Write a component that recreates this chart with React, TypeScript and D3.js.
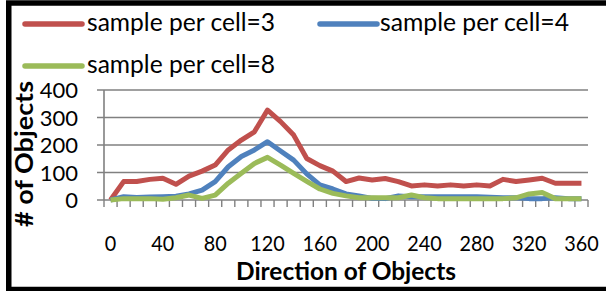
import React from "react";
import * as d3 from "d3";

const directions = [0, 10, 20, 30, 40, 50, 60, 70, 80, 90, 100, 110, 120, 130, 140, 150, 160, 170, 180, 190, 200, 210, 220, 230, 240, 250, 260, 270, 280, 290, 300, 310, 320, 330, 340, 350, 360];
const cell3 = [0, 67, 67, 75, 79, 57, 87, 105, 127, 182, 218, 248, 327, 285, 236, 151, 125, 105, 67, 80, 73, 78, 67, 51, 55, 51, 55, 51, 55, 51, 75, 67, 73, 79, 61, 61, 61];
const cell4 = [0, 12, 9, 11, 12, 14, 22, 36, 67, 121, 158, 182, 212, 178, 145, 95, 55, 40, 22, 15, 6, 5, 15, 12, 12, 12, 12, 12, 12, 10, 8, 8, 5, 5, 8, 5, 5];
const cell8 = [0, 5, 5, 5, 3, 8, 18, 6, 18, 61, 97, 133, 155, 127, 97, 68, 40, 24, 15, 8, 8, 8, 8, 18, 8, 5, 5, 5, 5, 5, 5, 8, 22, 27, 5, 5, 5];
const seriesNames = ["sample per cell=3", "sample per cell=4", "sample per cell=8"];
const seriesColors = ["#C0504D", "#4F81BD", "#9BBB59"];
const yTicks = [0, 100, 200, 300, 400];
const xLabelEvery = 4;

const W = 606;
const H = 291;
const FONT = "Lato, 'Open Sans', sans-serif";

export default function App() {
  const x = d3.scaleBand<string>().domain(directions.map(String)).range([104, 588]).paddingInner(0).paddingOuter(0);
  const y = d3.scaleLinear().domain([0, 400]).range([200, 90]);
  const bw = x.bandwidth();
  const cx = (i: number) => (x(String(directions[i])) as number) + bw / 2;
  const line = d3
    .line<number>()
    .x((_, i) => cx(i))
    .y((v) => y(v));
  const allSeries = [cell3, cell4, cell8];
  const tickEdges = directions.map((d) => x(String(d)) as number).concat([588]);

  const legendItems = [
    { lx: 25, ly: 24, tx: 87, ty: 31, tl: 188 },
    { lx: 320, ly: 24, tx: 380, ty: 31, tl: 189 },
    { lx: 25, ly: 66, tx: 87, ty: 73, tl: 188 },
  ];

  return (
    <svg width={W} height={H} style={{ position: "fixed", left: 0, top: 0, background: "#fff" }}>
      <rect x={0} y={0} width={W} height={H} fill="#fff" />
      {yTicks.map((t) => (
        <line key={t} x1={97} x2={588} y1={y(t)} y2={y(t)} stroke="#808080" strokeWidth={1.6} />
      ))}
      <line x1={104} x2={104} y1={y(400)} y2={y(0)} stroke="#808080" strokeWidth={1.6} />
      {tickEdges.map((e, i) => (
        <line key={i} x1={e} x2={e} y1={y(0)} y2={y(0) + 7} stroke="#808080" strokeWidth={1.4} />
      ))}
      {allSeries.map((s, k) => (
        <path key={k} d={line(s) || ""} fill="none" stroke={seriesColors[k]} strokeWidth={5} strokeLinejoin="round" strokeLinecap="butt" />
      ))}
      {yTicks.map((t) => (
        <text key={t} x={78} y={y(t) + 8} textAnchor="end" fontFamily={FONT} fontSize={22} fill="#000">
          {t}
        </text>
      ))}
      {directions.map((d, i) =>
        i % xLabelEvery === 0 ? (
          <text
            key={d}
            x={cx(i)}
            y={251}
            textAnchor="middle"
            fontFamily={FONT}
            fontSize={22}
            fill="#000"
            textLength={String(d).length * 11.5}
            lengthAdjust="spacingAndGlyphs"
          >
            {d}
          </text>
        ) : null
      )}
      <text x={346} y={280} textAnchor="middle" fontFamily={FONT} fontSize={24} fontWeight="bold" textLength={220} lengthAdjust="spacingAndGlyphs">
        Direction of Objects
      </text>
      <text
        transform="translate(33,154) rotate(-90)"
        textAnchor="middle"
        fontFamily={FONT}
        fontSize={25}
        fontWeight="bold"
        textLength={146}
        lengthAdjust="spacingAndGlyphs"
      >
        # of Objects
      </text>
      {legendItems.map((it, k) => (
        <g key={k}>
          <line x1={it.lx} x2={it.lx + 57} y1={it.ly} y2={it.ly} stroke={seriesColors[k]} strokeWidth={5.5} strokeLinecap="round" />
          <text x={it.tx} y={it.ty} fontFamily={FONT} fontSize={25} textLength={it.tl} lengthAdjust="spacingAndGlyphs">
            {seriesNames[k]}
          </text>
        </g>
      ))}
      <rect x={8.75} y={3} width={600} height={286.5} fill="none" stroke="#000" strokeWidth={5.5} />
    </svg>
  );
}
